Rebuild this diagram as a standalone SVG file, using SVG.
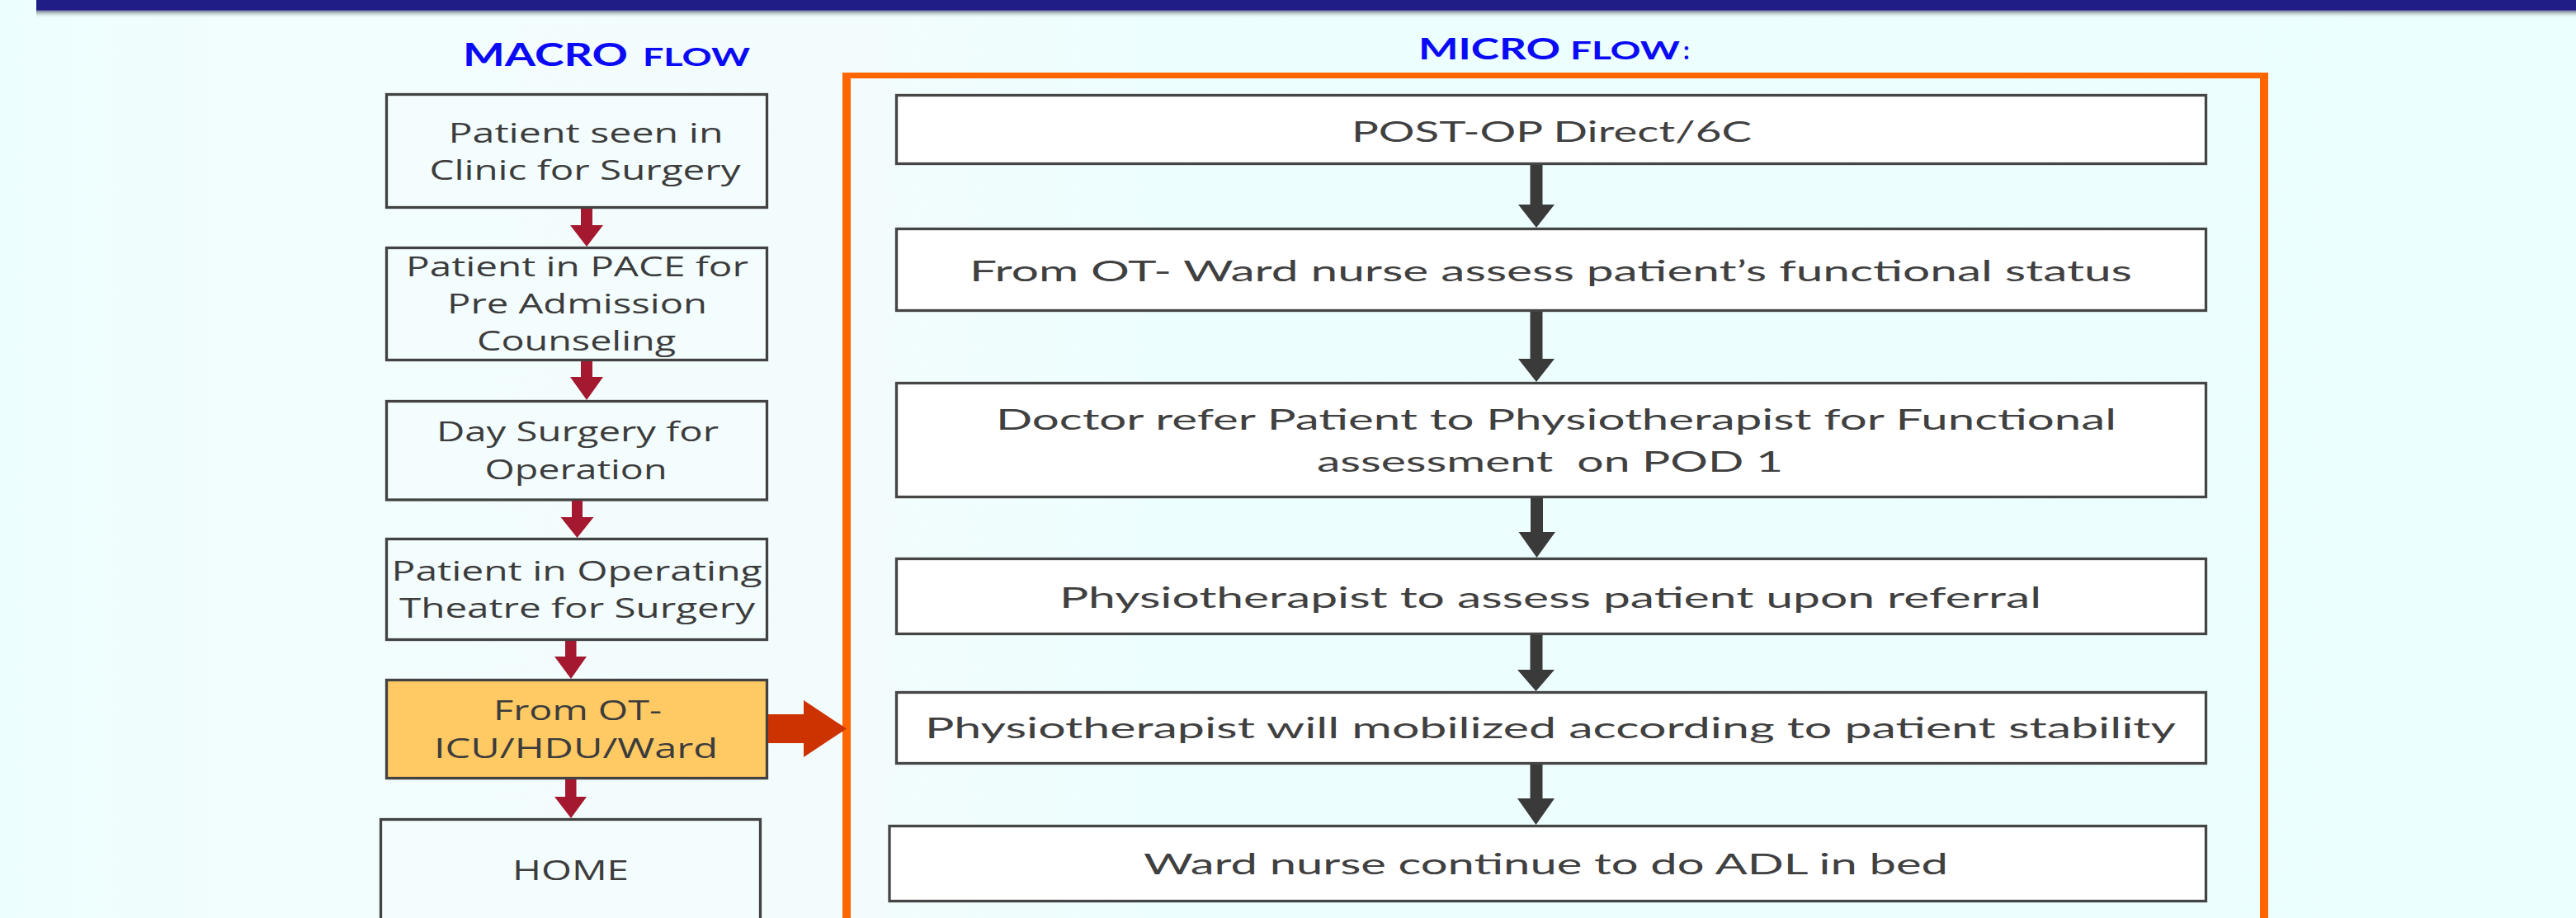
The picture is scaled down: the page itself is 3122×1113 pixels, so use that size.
<svg xmlns="http://www.w3.org/2000/svg" width="3122" height="1113" viewBox="0 0 3122 1113">
  <defs>
    <linearGradient id="bg" x1="0" y1="0" x2="1" y2="0">
      <stop offset="0" stop-color="#EDFEFE"/>
      <stop offset="0.09" stop-color="#F2FDFD"/>
      <stop offset="0.33" stop-color="#F3FCFD"/>
      <stop offset="0.45" stop-color="#EDFEFE"/>
      <stop offset="1" stop-color="#EBFFFE"/>
    </linearGradient>
    <linearGradient id="shadow" x1="0" y1="0" x2="0" y2="1">
      <stop offset="0" stop-color="#6E6AA8"/>
      <stop offset="0.3" stop-color="#A3B1B4"/>
      <stop offset="1" stop-color="#EBFFFE" stop-opacity="0"/>
    </linearGradient>
    <style>
      .mbox { fill: #F3FDFD; stroke: #424242; stroke-width: 3.3; }
      .mbox.hl { fill: #FFC963; }
      .ubox { fill: #FFFFFF; stroke: #454545; stroke-width: 3.3; }
      .mt { font-family: "Open Sans", "DejaVu Sans", sans-serif; font-size: 32px; fill: #3C3C3C; }
      .ut { font-family: Lato, "Liberation Sans", sans-serif; font-size: 35px; fill: #404040; white-space: pre; }
      .hd { font-family: Lato, "Liberation Sans", sans-serif; font-weight: bold; fill: #0A0AF5; }
      .red { fill: #A4192F; }
      .dark { fill: #3A3A3A; }
    </style>
  </defs>

  <rect x="0" y="0" width="3122" height="1113" fill="url(#bg)"/>

  <!-- title bar -->
  <g id="title-bar">
    <rect x="44" y="12" width="3078" height="10" fill="url(#shadow)"/>
    <rect x="44" y="0" width="3078" height="12.5" fill="#211D86"/>
  </g>

  <!-- headings -->
  <g id="macro-heading">
    <text class="hd" x="561" y="80" font-size="37.5" textLength="200" lengthAdjust="spacingAndGlyphs">MACRO</text>
    <text class="hd" x="779" y="80" font-size="30" textLength="130" lengthAdjust="spacingAndGlyphs">FLOW</text>
  </g>
  <g id="micro-heading">
    <text class="hd" x="1719" y="72" font-size="37" textLength="172" lengthAdjust="spacingAndGlyphs">MICRO</text>
    <text class="hd" x="1903" y="72" font-size="30" textLength="133" lengthAdjust="spacingAndGlyphs">FLOW</text>
    <text class="hd" x="2040" y="72" font-size="30" font-weight="normal">:</text>
  </g>

  <!-- micro flow frame -->
  <path id="micro-frame" d="M1021,88 H2749 V1125 H1021 Z M1031,95 V1125 H2739 V95 Z" fill="#FF6600" fill-rule="evenodd"/>

  <!-- macro nodes -->
  <g id="macro-1">
    <rect class="mbox" x="468.5" y="114.5" width="461" height="137"/>
    <text class="mt" x="543.5" y="173" textLength="333" lengthAdjust="spacingAndGlyphs">Patient seen in</text>
    <text class="mt" x="520.5" y="218" textLength="377" lengthAdjust="spacingAndGlyphs">Clinic for Surgery</text>
  </g>
  <g id="macro-2">
    <rect class="mbox" x="468.5" y="300.5" width="461" height="136"/>
    <text class="mt" x="492" y="335" textLength="415" lengthAdjust="spacingAndGlyphs">Patient in PACE for</text>
    <text class="mt" x="542" y="380" textLength="315" lengthAdjust="spacingAndGlyphs">Pre Admission</text>
    <text class="mt" x="578" y="425" textLength="241" lengthAdjust="spacingAndGlyphs">Counseling</text>
  </g>
  <g id="macro-3">
    <rect class="mbox" x="468.5" y="486.5" width="461" height="119.5"/>
    <text class="mt" x="529" y="535" textLength="342" lengthAdjust="spacingAndGlyphs">Day Surgery for</text>
    <text class="mt" x="587.5" y="581" textLength="221" lengthAdjust="spacingAndGlyphs">Operation</text>
  </g>
  <g id="macro-4">
    <rect class="mbox" x="468.5" y="653.5" width="461" height="122"/>
    <text class="mt" x="474.6" y="704" textLength="449" lengthAdjust="spacingAndGlyphs">Patient in Operating</text>
    <text class="mt" x="484" y="749" textLength="431" lengthAdjust="spacingAndGlyphs">Theatre for Surgery</text>
  </g>
  <g id="macro-5">
    <rect class="mbox hl" x="468.5" y="824.5" width="461" height="119"/>
    <text class="mt" x="598" y="873" textLength="204" lengthAdjust="spacingAndGlyphs">From OT-</text>
    <text class="mt" x="526" y="919" textLength="344" lengthAdjust="spacingAndGlyphs">ICU/HDU/Ward</text>
  </g>
  <g id="macro-6">
    <rect class="mbox" x="461.5" y="993.5" width="460" height="140"/>
    <text class="mt" x="621" y="1067" textLength="141" lengthAdjust="spacingAndGlyphs">HOME</text>
  </g>

  <!-- micro nodes -->
  <g id="micro-1">
    <rect class="ubox" x="1086.5" y="115.5" width="1587" height="83"/>
    <text class="ut" x="1638" y="172" textLength="485" lengthAdjust="spacingAndGlyphs">POST-OP Direct/6C</text>
  </g>
  <g id="micro-2">
    <rect class="ubox" x="1086.5" y="277.5" width="1587" height="99"/>
    <text class="ut" x="1175" y="341" textLength="1409" lengthAdjust="spacingAndGlyphs">From OT- Ward nurse assess patient’s functional status</text>
  </g>
  <g id="micro-3">
    <rect class="ubox" x="1086.5" y="464.5" width="1587" height="138"/>
    <text class="ut" x="1207" y="521" textLength="1358" lengthAdjust="spacingAndGlyphs">Doctor refer Patient to Physiotherapist for Functional</text>
    <text class="ut" x="1596" y="572" textLength="565" lengthAdjust="spacingAndGlyphs">assessment  on POD 1</text>
  </g>
  <g id="micro-4">
    <rect class="ubox" x="1086.5" y="677.5" width="1587" height="91"/>
    <text class="ut" x="1284" y="737" textLength="1190" lengthAdjust="spacingAndGlyphs">Physiotherapist to assess patient upon referral</text>
  </g>
  <g id="micro-5">
    <rect class="ubox" x="1086.5" y="839.5" width="1587" height="86"/>
    <text class="ut" x="1121" y="895" textLength="1516" lengthAdjust="spacingAndGlyphs">Physiotherapist will mobilized according to patient stability</text>
  </g>
  <g id="micro-6">
    <rect class="ubox" x="1078" y="1001.5" width="1595.5" height="91"/>
    <text class="ut" x="1386" y="1060" textLength="975" lengthAdjust="spacingAndGlyphs">Ward nurse continue to do ADL in bed</text>
  </g>

  <!-- connectors -->
  <g id="connectors">
    <!-- macro flow arrows -->
    <polygon class="red" points="704,253 718,253 718,273 731,273 711,299 691,273 704,273"/>
    <polygon class="red" points="704,438 718,438 718,457 731,457 711,485 691,457 704,457"/>
    <polygon class="red" points="693,607 706,607 706,627 719.5,627 699.5,652 679.5,627 693,627"/>
    <polygon class="red" points="685,777 698.5,777 698.5,796 711,796 692,823 672,796 685,796"/>
    <polygon class="red" points="685,945 698.5,945 698.5,966 711,966 692,992 672,966 685,966"/>
    <!-- macro to micro -->
    <polygon fill="#CC3300" points="931,866 974,866 974,849 1026,883.5 974,918 974,901 931,901"/>
    <!-- micro flow arrows -->
    <polygon class="dark" points="1854.5,200 1869.5,200 1869.5,248 1884,248 1862,276 1840,248 1854.5,248"/>
    <polygon class="dark" points="1854.5,378 1869.5,378 1869.5,435 1884,435 1862,463 1840,435 1854.5,435"/>
    <polygon class="dark" points="1855,604 1870,604 1870,645 1885,645 1862.5,676 1840.5,645 1855,645"/>
    <polygon class="dark" points="1854.5,770 1869.5,770 1869.5,812 1884,812 1861.5,838 1839,812 1854.5,812"/>
    <polygon class="dark" points="1854.5,927 1869.5,927 1869.5,968 1884,968 1861.5,1000 1839,968 1854.5,968"/>
  </g>
</svg>
